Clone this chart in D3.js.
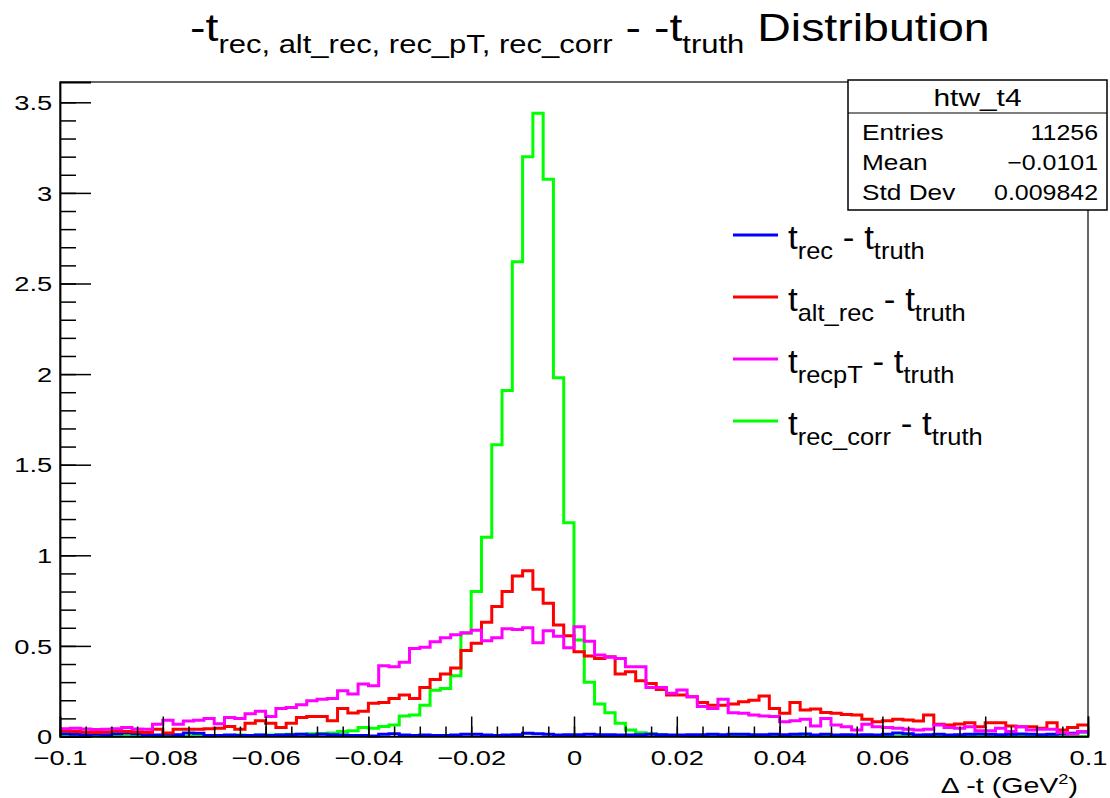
<!DOCTYPE html>
<html><head><meta charset="utf-8">
<script src="https://cdn.jsdelivr.net/npm/d3@7"></script>
<style>
body{margin:0;background:#fff;}
svg{display:block;}
text{font-family:"Liberation Sans",Arial,Helvetica,sans-serif;fill:#000;white-space:pre;}
</style>
</head><body>
<svg id="c" width="1110" height="798"></svg>
<script>
// ---------------- data ----------------
const xRange = [-0.1, 0.1];
const nBins = 100;
const yMax = 3.612;

const tRec = [0.015,0.012,0.01,0.012,0.01,0.015,0.02,0.015,0.01,0.008,
0.012,0.01,0.02,0.018,0.005,0.005,0.008,0.006,0.005,0.008,
0.006,0.008,0.01,0.012,0.008,0.012,0.01,0.008,0.005,0.005,
0.003,0.012,0.015,0.008,0.005,0.008,0.006,0.006,0.008,0.012,
0.012,0.008,0.006,0.008,0.01,0.018,0.015,0.012,0.008,0.01,
0.01,0.012,0.01,0.01,0.008,0.008,0.01,0.012,0.01,0.008,
0.008,0.01,0.01,0.012,0.01,0.012,0.012,0.01,0.01,0.012,
0.01,0.012,0.014,0.008,0.012,0.008,0.01,0.008,0.01,0.008,
0.012,0.02,0.015,0.008,0.01,0.012,0.008,0.01,0.012,0.014,
0.012,0.01,0.012,0.014,0.012,0.01,0.012,0.015,0.018,0.025];

const tAltRec = [0.03,0.028,0.025,0.022,0.025,0.03,0.028,0.025,0.022,0.04,
0.02,0.04,0.04,0.04,0.043,0.045,0.055,0.04,0.073,0.087,
0.073,0.05,0.073,0.105,0.11,0.11,0.087,0.155,0.13,0.14,
0.183,0.187,0.21,0.229,0.21,0.27,0.315,0.345,0.378,0.475,
0.514,0.63,0.718,0.80,0.886,0.915,0.812,0.735,0.615,0.556,
0.468,0.444,0.43,0.44,0.345,0.358,0.308,0.293,0.26,0.229,
0.229,0.22,0.187,0.173,0.173,0.18,0.192,0.20,0.224,0.155,
0.128,0.187,0.146,0.152,0.133,0.128,0.122,0.119,0.095,0.082,
0.087,0.095,0.091,0.086,0.119,0.067,0.063,0.069,0.076,0.054,
0.076,0.076,0.058,0.054,0.054,0.045,0.076,0.036,0.049,0.063];

const tRecPT = [0.043,0.045,0.042,0.038,0.04,0.043,0.05,0.042,0.04,0.067,
0.09,0.067,0.085,0.09,0.10,0.07,0.105,0.10,0.125,0.14,
0.11,0.155,0.16,0.175,0.197,0.205,0.21,0.253,0.235,0.29,
0.28,0.39,0.385,0.41,0.485,0.493,0.523,0.545,0.562,0.573,
0.586,0.528,0.545,0.594,0.59,0.60,0.518,0.583,0.553,0.49,
0.605,0.526,0.45,0.437,0.43,0.385,0.385,0.271,0.271,0.238,
0.257,0.22,0.165,0.155,0.205,0.131,0.128,0.119,0.113,0.11,
0.082,0.087,0.095,0.058,0.10,0.063,0.054,0.036,0.067,0.054,
0.05,0.045,0.04,0.036,0.04,0.063,0.05,0.045,0.054,0.032,
0.032,0.045,0.027,0.054,0.036,0.04,0.04,0.021,0.014,0.027];

const tRecCorr = [0,0,0,0.003,0,0,0.003,0,0.003,0,
0.003,0.003,0,0.005,0.003,0.005,0.005,0.008,0.006,0.008,
0.008,0.01,0.012,0.012,0.015,0.017,0.02,0.028,0.032,0.05,
0.045,0.055,0.063,0.113,0.118,0.173,0.255,0.265,0.335,0.57,
0.80,1.10,1.61,1.91,2.62,3.20,3.44,3.075,1.98,1.18,
0.533,0.30,0.18,0.131,0.073,0.036,0.021,0.015,0.01,0.006,
0.005,0.003,0.003,0.002,0.002,0.003,0,0.002,0,0,
0.002,0,0,0.002,0,0,0,0,0.002,0,
0,0,0.002,0,0,0,0,0,0,0,
0,0,0,0,0,0,0,0,0,0];

const xTickValues = [-0.1,-0.08,-0.06,-0.04,-0.02,0,0.02,0.04,0.06,0.08,0.1];
const xTickLabels = ["\u22120.1","\u22120.08","\u22120.06","\u22120.04","\u22120.02","0","0.02","0.04","0.06","0.08","0.1"];
const yTickValues = [0,0.5,1,1.5,2,2.5,3,3.5];
const yTickLabels = ["0","0.5","1","1.5","2","2.5","3","3.5"];

const statsTitle = "htw_t4";
const statsNames = ["Entries","Mean","Std Dev"];
const statsValues = ["11256","\u22120.0101","0.009842"];

const legendSubs = ["rec","alt_rec","recpT","rec_corr"];
const legendColors = ["#0000ff","#ff0000","#ff00ff","#00ff00"];

// draw order (first histogram carries the stats box)
const drawOrder = [
  {data:tRecCorr, color:"#00ff00"},
  {data:tRec, color:"#0000ff"},
  {data:tAltRec, color:"#ff0000"},
  {data:tRecPT, color:"#ff00ff"}
];

// ---------------- layout ----------------
const svg = d3.select("#c");
const L = 60, R = 1088, T = 82, B = 736.5;
const x = d3.scaleLinear().domain(xRange).range([L, R]);
const y = d3.scaleLinear().domain([0, yMax]).range([B, T]);
const binW = (xRange[1]-xRange[0])/nBins;
const SX = 1.3; // horizontal stretch of ROOT text

// histograms
const line = d3.line().x(d=>x(d[0])).y(d=>y(d[1])).curve(d3.curveStepAfter);
drawOrder.forEach(s=>{
  const pts = s.data.map((v,i)=>[xRange[0]+i*binW, v]);
  pts.push([xRange[1], s.data[s.data.length-1]]);
  svg.append("path").attr("d", line(pts)).attr("fill","none")
    .attr("stroke", s.color).attr("stroke-width", 3).attr("stroke-linejoin","miter");
});

// frame
svg.append("rect").attr("x",L).attr("y",T).attr("width",R-L).attr("height",B-T)
  .attr("fill","none").attr("stroke","#000").attr("stroke-width",1.2);

// x axis
const gx = svg.append("g").attr("transform",`translate(0,${B})`);
gx.call(d3.axisBottom(x).tickValues(xTickValues).tickSize(-20).tickPadding(0)
  .tickFormat((d,i)=>xTickLabels[i]));
gx.select(".domain").attr("stroke-width",1.5);
gx.selectAll(".tick line").attr("stroke-width",1.5);
gx.selectAll(".tick text").attr("font-size",21).attr("y",29).attr("dy",0)
  .attr("font-family","Liberation Sans, Arial, sans-serif")
  .attr("transform",`scale(${SX},1)`);
const gxm = svg.append("g").attr("transform",`translate(0,${B})`);
gxm.call(d3.axisBottom(x).tickValues(d3.range(-20,21).map(k=>k*0.005)).tickSize(-10).tickFormat(""));
gxm.select(".domain").remove();
gxm.selectAll(".tick line").attr("stroke-width",1.5);

// y axis
const gy = svg.append("g").attr("transform",`translate(${L},0)`);
gy.call(d3.axisLeft(y).tickValues(yTickValues).tickSize(-31).tickPadding(0)
  .tickFormat((d,i)=>yTickLabels[i]));
gy.select(".domain").attr("stroke-width",1.8);
gy.selectAll(".tick line").attr("stroke-width",1.5);
gy.selectAll(".tick text").attr("font-size",21).attr("x",-6).attr("dy","0.34em")
  .attr("font-family","Liberation Sans, Arial, sans-serif")
  .attr("transform",`scale(${SX},1)`);
const gym = svg.append("g").attr("transform",`translate(${L},0)`);
gym.call(d3.axisLeft(y).tickValues(d3.range(0,36).map(k=>k*0.1)).tickSize(-16).tickFormat(""));
gym.select(".domain").remove();
gym.selectAll(".tick line").attr("stroke-width",1.5);

// axis title
const at = svg.append("g").attr("transform",`translate(1078,793) scale(${SX},1)`)
  .append("text").attr("text-anchor","end").attr("font-size",22);
at.append("tspan").text("\u0394 -t (GeV");
at.append("tspan").attr("font-size",14).attr("dy",-9).text("2");
at.append("tspan").attr("dy",9).text(")");

// title
const tg = svg.append("g");
const tt = tg.append("text").attr("font-size",39);
tt.append("tspan").text("-t");
tt.append("tspan").attr("font-size",26).attr("dy",12).text("rec, alt_rec, rec_pT, rec_corr");
tt.append("tspan").attr("dy",-12).text(" - -t");
tt.append("tspan").attr("font-size",26).attr("dy",12).text("truth");
tt.append("tspan").attr("dy",-12).text(" Distribution");
{
  const w = tt.node().getBBox().width;
  tg.attr("transform",`translate(190,41) scale(${800/w},1)`);
}

// stats box
const sb = {x0:848, y0:80, x1:1107, y1:210, sep:113};
svg.append("rect").attr("x",sb.x0).attr("y",sb.y0).attr("width",sb.x1-sb.x0).attr("height",sb.y1-sb.y0)
  .attr("fill","#fff").attr("stroke","#000").attr("stroke-width",1.5);
svg.append("line").attr("x1",sb.x0).attr("x2",sb.x1).attr("y1",sb.sep).attr("y2",sb.sep)
  .attr("stroke","#000").attr("stroke-width",1.2);
svg.append("g").attr("transform",`translate(${(sb.x0+sb.x1)/2},106) scale(1.3,1)`)
  .append("text").attr("text-anchor","middle").attr("font-size",23).text(statsTitle);
statsNames.forEach((n,i)=>{
  const by = 140 + i*30;
  svg.append("g").attr("transform",`translate(862,${by}) scale(1.22,1)`)
    .append("text").attr("font-size",21.5).text(n);
  svg.append("g").attr("transform",`translate(1098,${by}) scale(1.16,1)`)
    .append("text").attr("text-anchor","end").attr("font-size",21.5).text(statsValues[i]);
});

// legend
legendSubs.forEach((sub,i)=>{
  const ly = 235 + i*62;
  svg.append("line").attr("x1",733).attr("x2",778).attr("y1",ly).attr("y2",ly)
    .attr("stroke",legendColors[i]).attr("stroke-width",3);
  const t = svg.append("g").attr("transform",`translate(788,${ly+14}) scale(1.06,1)`)
    .append("text").attr("font-size",33);
  t.append("tspan").text("t");
  t.append("tspan").attr("font-size",24).attr("dy",10).text(sub);
  t.append("tspan").attr("dy",-10).text(" - t");
  t.append("tspan").attr("font-size",24).attr("dy",10).text("truth");
});
</script>
</body></html>
